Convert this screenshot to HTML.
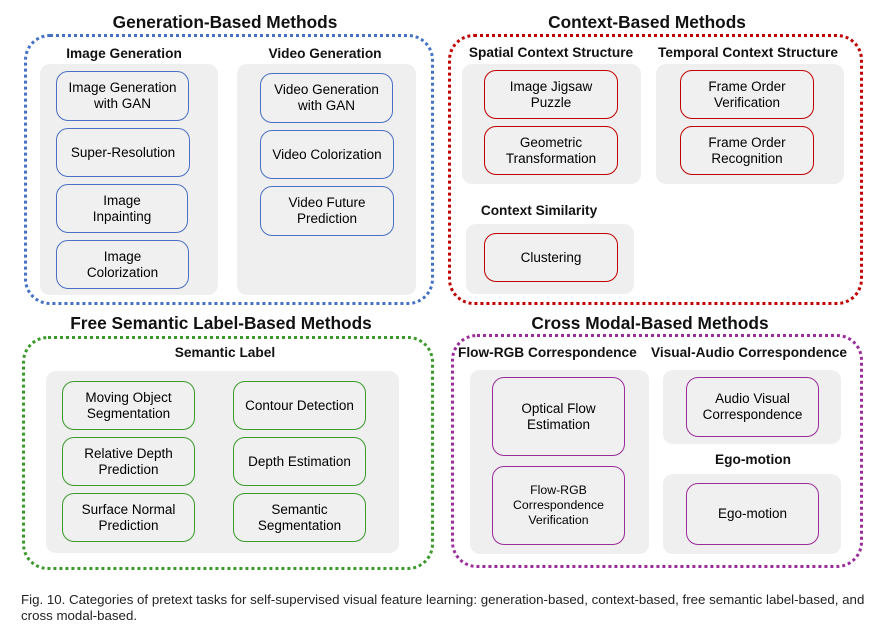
<!DOCTYPE html>
<html><head><meta charset="utf-8"><style>
body{margin:0;width:895px;height:643px;background:#fff;position:relative;overflow:hidden;font-family:"Liberation Sans",Arial,sans-serif;color:#111}
div{box-sizing:border-box;position:absolute}
.o{border:3px dotted;border-radius:26px}
.t{font-weight:bold;font-size:17.3px;text-align:center;white-space:nowrap;transform:translateX(-50%)}
.s{font-weight:bold;font-size:13.7px;text-align:center;white-space:nowrap;transform:translateX(-50%)}
.p{background:#efefef;border-radius:10px}
.b{background:#f0f0f0;border:1.5px solid;border-radius:12px;display:flex;align-items:center;justify-content:center;text-align:center;font-size:13.5px;line-height:16px;color:#000}
.bl{border-color:#4a6fc4}.rd{border-color:#c00000}.gr{border-color:#3a9a2a}.pu{border-color:#9b2d9b}
</style></head><body>
<div class="t" style="left:225px;top:12px">Generation-Based Methods</div>
<div class="t" style="left:647px;top:12px">Context-Based Methods</div>
<div class="t" style="left:221px;top:313px">Free Semantic Label-Based Methods</div>
<div class="t" style="left:650px;top:313px">Cross Modal-Based Methods</div>

<div class="o" style="left:24px;top:34px;width:410px;height:271px;border-color:#4472c4"></div>
<div class="o" style="left:448px;top:34px;width:415px;height:271px;border-color:#c00000"></div>
<div class="o" style="left:22px;top:336px;width:412px;height:234px;border-color:#3a9a2a"></div>
<div class="o" style="left:451px;top:334px;width:412px;height:234px;border-color:#9b2d9b"></div>

<div class="s" style="left:124px;top:46px">Image Generation</div>
<div class="s" style="left:325px;top:46px">Video Generation</div>
<div class="p" style="left:40px;top:64px;width:178px;height:231px"></div>
<div class="p" style="left:237px;top:64px;width:179px;height:231px"></div>
<div class="b bl" style="left:56px;top:71px;width:133px;height:50px">Image Generation<br>with GAN</div>
<div class="b bl" style="left:56px;top:128px;width:134px;height:49px">Super-Resolution</div>
<div class="b bl" style="left:56px;top:184px;width:132px;height:49px">Image<br>Inpainting</div>
<div class="b bl" style="left:56px;top:240px;width:133px;height:49px">Image<br>Colorization</div>
<div class="b bl" style="left:260px;top:73px;width:133px;height:50px">Video Generation<br>with GAN</div>
<div class="b bl" style="left:260px;top:130px;width:134px;height:49px">Video Colorization</div>
<div class="b bl" style="left:260px;top:186px;width:134px;height:50px">Video Future<br>Prediction</div>

<div class="s" style="left:551px;top:45px">Spatial Context Structure</div>
<div class="s" style="left:748px;top:45px">Temporal Context Structure</div>
<div class="p" style="left:462px;top:64px;width:179px;height:120px"></div>
<div class="p" style="left:656px;top:64px;width:188px;height:120px"></div>
<div class="b rd" style="left:484px;top:70px;width:134px;height:49px">Image Jigsaw<br>Puzzle</div>
<div class="b rd" style="left:484px;top:126px;width:134px;height:49px">Geometric<br>Transformation</div>
<div class="b rd" style="left:680px;top:70px;width:134px;height:49px">Frame Order<br>Verification</div>
<div class="b rd" style="left:680px;top:126px;width:134px;height:49px">Frame Order<br>Recognition</div>
<div class="s" style="left:539px;top:203px">Context Similarity</div>
<div class="p" style="left:466px;top:224px;width:168px;height:70px"></div>
<div class="b rd" style="left:484px;top:233px;width:134px;height:49px">Clustering</div>

<div class="s" style="left:225px;top:345px">Semantic Label</div>
<div class="p" style="left:46px;top:371px;width:353px;height:182px"></div>
<div class="b gr" style="left:62px;top:381px;width:133px;height:49px">Moving Object<br>Segmentation</div>
<div class="b gr" style="left:62px;top:437px;width:133px;height:49px">Relative Depth<br>Prediction</div>
<div class="b gr" style="left:62px;top:493px;width:133px;height:49px">Surface Normal<br>Prediction</div>
<div class="b gr" style="left:233px;top:381px;width:133px;height:49px">Contour Detection</div>
<div class="b gr" style="left:233px;top:437px;width:133px;height:49px">Depth Estimation</div>
<div class="b gr" style="left:233px;top:493px;width:133px;height:49px">Semantic<br>Segmentation</div>

<div class="s" style="left:458px;top:345px;transform:none">Flow-RGB Correspondence</div>
<div class="s" style="left:651px;top:345px;transform:none">Visual-Audio Correspondence</div>
<div class="p" style="left:470px;top:370px;width:179px;height:184px"></div>
<div class="b pu" style="left:492px;top:377px;width:133px;height:79px">Optical Flow<br>Estimation</div>
<div class="b pu" style="left:492px;top:466px;width:133px;height:79px;font-size:12.3px;line-height:15px">Flow-RGB<br>Correspondence<br>Verification</div>
<div class="p" style="left:663px;top:370px;width:178px;height:74px"></div>
<div class="b pu" style="left:686px;top:377px;width:133px;height:60px">Audio Visual<br>Correspondence</div>
<div class="s" style="left:753px;top:452px">Ego-motion</div>
<div class="p" style="left:663px;top:474px;width:178px;height:80px"></div>
<div class="b pu" style="left:686px;top:483px;width:133px;height:62px">Ego-motion</div>

<div style="left:21px;top:592px;font-size:13.3px;line-height:16px;white-space:nowrap;color:#222">Fig. 10. Categories of pretext tasks for self-supervised visual feature learning: generation-based, context-based, free semantic label-based, and<br>cross modal-based.</div>
</body></html>
